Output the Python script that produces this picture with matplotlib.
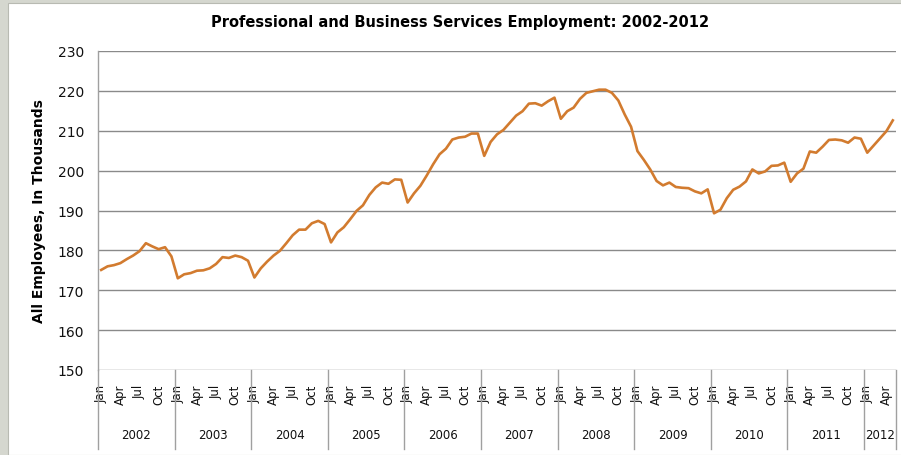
import numpy as np
import matplotlib
matplotlib.use("Agg")
import matplotlib.pyplot as plt
import matplotlib.transforms as mtransforms

# monthly values, Jan 2002 - May 2012 (thousands)
employees = [
    175.1, 176.0, 176.3, 176.8, 177.8, 178.7, 179.8, 181.8, 181.0, 180.3, 180.8, 178.5,  # 2002
    173.0, 174.0, 174.3, 174.9, 175.0, 175.5, 176.6, 178.3, 178.1, 178.7, 178.3, 177.4,  # 2003
    173.2, 175.5, 177.2, 178.7, 179.9, 181.8, 183.8, 185.2, 185.2, 186.8, 187.4, 186.6,  # 2004
    182.0, 184.5, 185.8, 187.8, 189.9, 191.3, 193.9, 195.8, 197.0, 196.7, 197.8, 197.7,  # 2005
    192.0, 194.3, 196.2, 198.8, 201.6, 204.1, 205.5, 207.8, 208.3, 208.5, 209.3, 209.3,  # 2006
    203.7, 207.2, 209.1, 210.2, 212.0, 213.8, 214.9, 216.8, 216.9, 216.3, 217.4, 218.3,  # 2007
    213.0, 214.9, 215.8, 218.0, 219.5, 219.9, 220.3, 220.3, 219.5, 217.6, 214.1, 211.0,  # 2008
    204.9, 202.7, 200.3, 197.4, 196.3, 197.0, 195.9, 195.7, 195.6, 194.8, 194.3, 195.3,  # 2009
    189.3, 190.2, 193.1, 195.2, 196.0, 197.3, 200.3, 199.3, 199.8, 201.2, 201.3, 202.0,  # 2010
    197.2, 199.3, 200.5, 204.8, 204.5, 206.0, 207.7, 207.8, 207.6, 207.0, 208.3, 208.0,  # 2011
    204.5, 206.3, 208.1, 209.9, 212.6,                                                   # 2012
]
years = ["2002", "2003", "2004", "2005", "2006", "2007", "2008", "2009", "2010", "2011", "2012"]
month_labels = ["Jan", "Apr", "Jul", "Oct"]
y_ticks = [150, 160, 170, 180, 190, 200, 210, 220, 230]

n = len(employees)
x = np.arange(n) + 0.5

fig = plt.figure(figsize=(9.01, 4.56), dpi=100)
fig.patch.set_facecolor("#d5d7cf")
# white chart area inside the grey frame
fig.patches.append(plt.Rectangle((8 / 901, 0), 1, 452 / 456, transform=fig.transFigure,
                                 facecolor="white", edgecolor="#b8bab2", linewidth=0.8, zorder=-5))

ax = fig.add_axes([98 / 901, 85 / 456, 798 / 901, 319 / 456])
ax.set_facecolor("none")

ax.plot(x, employees, color="#d27b2f", linewidth=1.9, solid_joinstyle="round", zorder=3)

ax.set_xlim(0, n)
ax.set_ylim(150, 230)
ax.set_yticks(y_ticks)
ax.tick_params(axis="y", length=0, pad=10, labelsize=10, labelcolor="#111111")
ax.grid(axis="y", color="#8a8a8a", linewidth=1.0)
ax.set_axisbelow(True)
for s in ["top", "right", "bottom"]:
    ax.spines[s].set_visible(False)
ax.spines["left"].set_color("#a0a0a0")
ax.spines["left"].set_linewidth(1.0)

# month ticks (every 3rd month)
tick_pos = []
tick_lab = []
for i in range(n):
    if i % 3 == 0:
        tick_pos.append(i + 0.5)
        tick_lab.append(month_labels[(i % 12) // 3])
ax.set_xticks(tick_pos)
ax.set_xticklabels(tick_lab, rotation=90, fontsize=8.5, color="#111111", va="top")
ax.tick_params(axis="x", length=0, pad=10)

# year group separators and labels
trans = mtransforms.blended_transform_factory(ax.transData, ax.transAxes)
bottom = -79 / 319
for k, yr in enumerate(years):
    start = k * 12
    end = min(start + 12, n)
    ax.plot([start, start], [0, bottom], transform=trans, color="#a0a0a0",
            linewidth=1.0, clip_on=False)
    ax.text((start + end) / 2, -65 / 319, yr, transform=trans, ha="center",
            va="center", fontsize=8.5, color="#111111")
ax.plot([n, n], [0, bottom], transform=trans, color="#a0a0a0", linewidth=1.0, clip_on=False)

ax.set_ylabel("All Employees, In Thousands", fontsize=10, fontweight="bold", labelpad=8)
fig.text(460 / 901, 1 - 22 / 456, "Professional and Business Services Employment: 2002-2012",
         ha="center", va="center", fontsize=10.5, fontweight="bold")

fig.savefig("out.png", dpi=100, facecolor=fig.get_facecolor())
